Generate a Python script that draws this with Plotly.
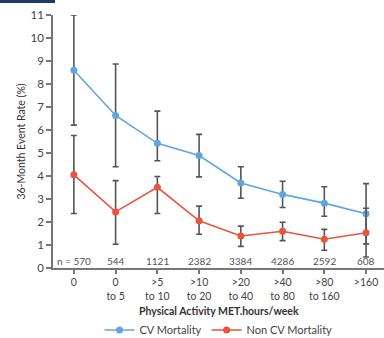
import plotly.graph_objects as go

categories = ["0", "0<br>to 5", ">5<br>to 10", ">10<br>to 20", ">20<br>to 40", ">40<br>to 80", ">80<br>to 160", ">160"]
n_counts = ["n = 570", "544", "1121", "2382", "3384", "4286", "2592", "608"]

cv_rate = [8.6, 6.63, 5.42, 4.89, 3.70, 3.20, 2.82, 2.36]
cv_upper = [11.0, 8.87, 6.82, 5.81, 4.40, 3.77, 3.53, 3.67]
cv_lower = [6.21, 4.40, 4.66, 3.96, 3.03, 2.63, 2.25, 1.05]

noncv_rate = [4.05, 2.44, 3.51, 2.05, 1.39, 1.60, 1.25, 1.53]
noncv_upper = [5.76, 3.80, 3.98, 2.69, 1.82, 1.99, 1.68, 2.60]
noncv_lower = [2.37, 1.03, 2.37, 1.47, 0.94, 1.19, 0.77, 0.48]

CV_COLOR = "#5fa6dd"
NCV_COLOR = "#e8543d"
ERR_COLOR = "#555555"
FONT = "Lato"
TXT = "#444444"

def err(rate, up, lo):
    return dict(
        type="data", symmetric=False,
        array=[u - r for u, r in zip(up, rate)],
        arrayminus=[r - l for r, l in zip(rate, lo)],
        color=ERR_COLOR, thickness=1.6, width=3,
    )

fig = go.Figure()
fig.add_trace(go.Scatter(
    x=categories, y=cv_rate, name="CV Mortality", mode="lines+markers",
    line=dict(color=CV_COLOR, width=1.6), marker=dict(color=CV_COLOR, size=7),
    error_y=err(cv_rate, cv_upper, cv_lower),
))
fig.add_trace(go.Scatter(
    x=categories, y=noncv_rate, name="Non CV Mortality", mode="lines+markers",
    line=dict(color=NCV_COLOR, width=1.6), marker=dict(color=NCV_COLOR, size=7),
    error_y=err(noncv_rate, noncv_upper, noncv_lower),
))

for c, n in zip(categories, n_counts):
    fig.add_annotation(x=c, y=0, xref="x", yref="y", text=n, showarrow=False,
                       yanchor="bottom", yshift=-1,
                       font=dict(family=FONT, size=10, color="#555555"))

fig.add_annotation(x=0.5, y=-0.168, xref="paper", yref="paper",
                   text="<b>Physical Activity MET.hours/week</b>", showarrow=False,
                   xanchor="center", yanchor="middle",
                   font=dict(family=FONT, size=10.5, color="#333333"))

fig.add_shape(type="rect", xref="paper", yref="paper", x0=-0.17, x1=0.006,
              y0=1.047, y1=1.07, fillcolor="#1f3a6e", line=dict(width=0))

fig.update_layout(
    width=384, height=338,
    margin=dict(l=53, r=0, t=15, b=70, autoexpand=False),
    paper_bgcolor="white", plot_bgcolor="white",
    font=dict(family=FONT, size=11, color=TXT),
    showlegend=True,
    legend=dict(orientation="h", x=0.5, xanchor="center", y=-0.245, yanchor="middle",
                font=dict(family=FONT, size=11, color=TXT),
                tracegroupgap=0),
    xaxis=dict(
        type="category", categoryorder="array", categoryarray=categories,
        range=[-0.5, 7.43], showgrid=False, zeroline=False, automargin=False,
        showline=True, linecolor="#777777", linewidth=1.5,
        ticks="outside", ticklen=4, tickcolor="#777777", tickwidth=1.5,
        tickfont=dict(family=FONT, size=10.5, color=TXT),
    ),
    yaxis=dict(
        range=[0, 11], dtick=1, showgrid=False, zeroline=False, automargin=False,
        showline=True, linecolor="#777777", linewidth=1.5,
        ticks="outside", ticklen=5, tickcolor="#777777", tickwidth=1.5,
        tickfont=dict(family=FONT, size=11.5, color=TXT),
        title=dict(text="36-Month Event Rate (%)", standoff=3,
                   font=dict(family=FONT, size=10.5, color="#333333")),
    ),
)

fig.write_html("out.html", config={"displayModeBar": False},
               post_script="document.body.style.margin='0';")
